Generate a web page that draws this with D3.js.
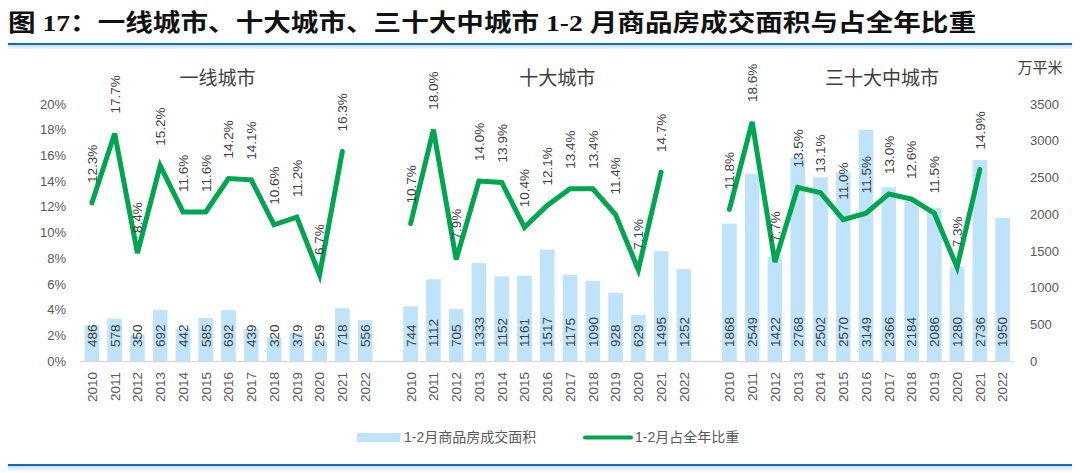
<!DOCTYPE html>
<html><head><meta charset="utf-8">
<script src="https://cdn.jsdelivr.net/npm/d3@7"></script>
<style>
body{margin:0;background:#fff;}
svg{display:block;}
</style></head>
<body>
<svg id="c" width="1080" height="473"></svg>
<script>
// ---- data ----
const years = ["2010","2011","2012","2013","2014","2015","2016","2017","2018","2019","2020","2021","2022"];
const groupNames = ["一线城市","十大城市","三十大中城市"];
const area1 = [486,578,350,692,442,585,692,439,320,379,259,718,556];
const area2 = [744,1112,705,1333,1152,1161,1517,1175,1090,928,629,1495,1252];
const area3 = [1868,2549,1422,2768,2502,2570,3149,2366,2184,2086,1280,2736,1950];
const share1 = [12.3,17.7,8.4,15.2,11.6,11.6,14.2,14.1,10.6,11.2,6.7,16.3,null];
const share2 = [10.7,18.0,7.9,14.0,13.9,10.4,12.1,13.4,13.4,11.4,7.1,14.7,null];
const share3 = [11.8,18.6,7.7,13.5,13.1,11.0,11.5,13.0,12.6,11.5,7.3,14.9,null];
const leftTicks = [0,2,4,6,8,10,12,14,16,18,20];
const rightTicks = [0,500,1000,1500,2000,2500,3000,3500];
const titleText = "图 17：一线城市、十大城市、三十大中城市 1-2 月商品房成交面积与占全年比重";
const legendLabels = ["1-2月商品房成交面积","1-2月占全年比重"];
const unitLabel = "万平米";

const areas = [area1,area2,area3];
const shares = [share1,share2,share3];

// build category slots (with one blank slot between groups)
const slots = [];
groupNames.forEach((g,gi)=>{
  if(gi>0) slots.push("gap"+gi);
  years.forEach(y=>slots.push(gi+"-"+y));
});

const svg = d3.select("#c");
const FONT = "'Liberation Sans','Noto Sans CJK SC',sans-serif";
const BAR = "#BEE3FA", LINE = "#00A550", TXT="#595959", LBL="#404040";

const x = d3.scaleBand().domain(slots).range([80.5,1014]).paddingInner(0.36).paddingOuter(0.18);
const yL = d3.scaleLinear().domain([0,20]).range([361,104]);
const yR = d3.scaleLinear().domain([0,3500]).range([361,104]);
const cx = k => x(k) + x.bandwidth()/2;

// title
svg.append("text").attr("x",8).attr("y",31)
  .attr("font-family","'Liberation Serif','Noto Sans CJK SC',serif")
  .attr("font-weight","bold").attr("font-size",23.5).attr("fill","#111")
  .attr("textLength",968).attr("lengthAdjust","spacingAndGlyphs")
  .text(titleText);
// title rule
const defs = svg.append("defs");
const gr = defs.append("linearGradient").attr("id","sh").attr("x1",0).attr("x2",0).attr("y1",0).attr("y2",1);
gr.append("stop").attr("offset",0).attr("stop-color","#c9dcef");
gr.append("stop").attr("offset",1).attr("stop-color","#ffffff");
svg.append("rect").attr("x",8).attr("y",45).attr("width",1064).attr("height",5).attr("fill","url(#sh)");
svg.append("line").attr("x1",8).attr("x2",1072).attr("y1",44).attr("y2",44).attr("stroke","#0A6EBD").attr("stroke-width",2);
svg.append("rect").attr("x",8).attr("y",466).attr("width",1064).attr("height",6).attr("fill","url(#sh)");
svg.append("line").attr("x1",8).attr("x2",1072).attr("y1",465).attr("y2",465).attr("stroke","#0A6EBD").attr("stroke-width",2);

// left axis
const gL = svg.append("g").attr("transform","translate(66,0)")
  .call(d3.axisLeft(yL).tickValues(leftTicks).tickSize(0).tickPadding(0).tickFormat(d=>d+"%"));
gL.select(".domain").remove();
gL.selectAll("text").attr("font-family",FONT).attr("font-size",13).attr("fill",TXT);
// right axis
const gR = svg.append("g").attr("transform","translate(1030,0)")
  .call(d3.axisRight(yR).tickValues(rightTicks).tickSize(0).tickPadding(0).tickFormat(d3.format("d")));
gR.select(".domain").remove();
gR.selectAll("text").attr("font-family",FONT).attr("font-size",13).attr("fill",TXT);
svg.append("text").attr("x",1040).attr("y",73).attr("text-anchor","middle")
  .attr("font-family",FONT).attr("font-size",15).attr("fill",LBL).text(unitLabel);

// bars
groupNames.forEach((g,gi)=>{
  const data = years.map((y,i)=>({k:gi+"-"+y, v:areas[gi][i]}));
  svg.append("g").selectAll("rect").data(data).join("rect")
    .attr("x",d=>x(d.k)).attr("width",x.bandwidth())
    .attr("y",d=>yR(d.v)).attr("height",d=>yR(0)-yR(d.v)).attr("fill",BAR);
});
// baseline
svg.append("line").attr("x1",80).attr("x2",1014).attr("y1",361.5).attr("y2",361.5).attr("stroke","#D9D9D9").attr("stroke-width",1.5);

// bar labels
groupNames.forEach((g,gi)=>{
  const data = years.map((y,i)=>({k:gi+"-"+y, v:areas[gi][i]}));
  svg.append("g").selectAll("text").data(data).join("text")
    .attr("transform",d=>`translate(${cx(d.k)},${yR(0)-14}) rotate(-90)`)
    .attr("dy","0.36em").attr("text-anchor","start")
    .attr("font-family",FONT).attr("font-size",13.5).attr("fill",LBL)
    .text(d=>d.v);
});

// lines
const line = d3.line().defined(d=>d.v!=null).x(d=>cx(d.k)).y(d=>yL(d.v));
groupNames.forEach((g,gi)=>{
  const data = years.map((y,i)=>({k:gi+"-"+y, v:shares[gi][i]}));
  svg.append("path").datum(data).attr("d",line).attr("fill","none")
    .attr("stroke",LINE).attr("stroke-width",5).attr("stroke-linejoin","miter").attr("stroke-linecap","round");
  svg.append("g").selectAll("text").data(data.filter(d=>d.v!=null)).join("text")
    .attr("transform",d=>`translate(${cx(d.k)},${yL(d.v)-20}) rotate(-90)`)
    .attr("dy","0.36em").attr("text-anchor","start")
    .attr("font-family",FONT).attr("font-size",13.5).attr("fill",LBL)
    .text(d=>d.v.toFixed(1)+"%");
});

// x labels
svg.append("g").selectAll("text").data(slots.filter(s=>!s.startsWith("gap"))).join("text")
  .attr("transform",d=>`translate(${cx(d)},372) rotate(-90)`)
  .attr("dy","0.36em").attr("text-anchor","end")
  .attr("font-family",FONT).attr("font-size",13.5).attr("fill",TXT)
  .text(d=>d.split("-")[1]);

// group titles
const titleShift = [-11, 10, 16];
groupNames.forEach((g,gi)=>{
  const first = cx(gi+"-2010"), last = cx(gi+"-2022");
  svg.append("text").attr("x",(first+last)/2 + titleShift[gi]).attr("y",85).attr("text-anchor","middle")
    .attr("font-family",FONT).attr("font-size",19).attr("fill",LBL).text(g);
});

// legend
svg.append("rect").attr("x",357).attr("y",433).attr("width",43).attr("height",9).attr("fill",BAR);
svg.append("text").attr("x",404).attr("y",442).attr("font-family",FONT).attr("font-size",14).attr("fill",TXT).text(legendLabels[0]);
svg.append("line").attr("x1",585).attr("x2",631).attr("y1",437.5).attr("y2",437.5).attr("stroke",LINE).attr("stroke-width",4).attr("stroke-linecap","round");
svg.append("text").attr("x",635).attr("y",442).attr("font-family",FONT).attr("font-size",14).attr("fill",TXT).text(legendLabels[1]);
</script>
</body></html>
